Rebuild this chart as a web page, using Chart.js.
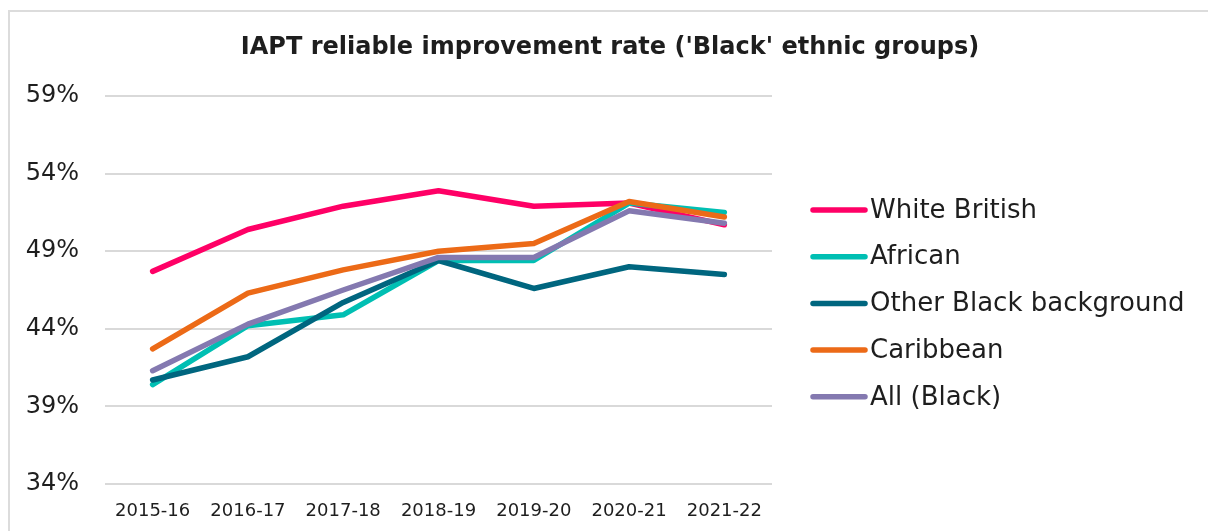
<!DOCTYPE html>
<html>
<head>
<meta charset="utf-8">
<title>IAPT reliable improvement rate</title>
<script src="https://cdn.jsdelivr.net/npm/chart.js@4.4.1/dist/chart.umd.min.js"></script>
<style>
  body { margin: 0; background: #fff; }
  #wrap { position: relative; width: 1208px; height: 531px; overflow: hidden; }
  #frame { position: absolute; left: 8px; top: 10px; width: 1300px; height: 600px; border: 2px solid #dcdcdc; }
  canvas { position: absolute; left: 0; top: 0; }
</style>
</head>
<body>
<div id="wrap">
  <div id="frame"></div>
  <canvas id="chart" width="1208" height="531"></canvas>
</div>
<script>
// reliable improvement rate, % of referrals finishing treatment
const years = ['2015-16', '2016-17', '2017-18', '2018-19', '2019-20', '2020-21', '2021-22']
const whiteBritish = [47.7, 50.4, 51.9, 52.9, 51.9, 52.1, 50.7]
const african = [40.4, 44.2, 44.9, 48.4, 48.4, 52.1, 51.5]
const otherBlack = [40.7, 42.2, 45.7, 48.4, 46.6, 48.0, 47.5]
const caribbean = [42.7, 46.3, 47.8, 49.0, 49.5, 52.2, 51.2]
const allBlack = [41.3, 44.3, 46.5, 48.6, 48.6, 51.6, 50.8]
const yTicks = [34, 39, 44, 49, 54, 59]

const seriesNames = ['White British', 'African', 'Other Black background', 'Caribbean', 'All (Black)']
const seriesValues = [whiteBritish, african, otherBlack, caribbean, allBlack]
const seriesColors = ['#ff0066', '#00bfb3', '#00667f', '#ec6a17', '#8479b0']

const FONT = "'DejaVu Sans', sans-serif"
const TEXT = '#1e1e1e'

Chart.defaults.font.family = FONT
Chart.defaults.color = TEXT

const datasets = seriesNames.map((name, i) => ({
    label: name,
    data: seriesValues[i],
    borderColor: seriesColors[i],
    backgroundColor: seriesColors[i],
    borderWidth: 5.5,
    borderCapStyle: 'round',
    borderJoinStyle: 'round',
    pointRadius: 0,
    tension: 0,
    // later series sit on top, like the spreadsheet original
    order: seriesNames.length - i,
}))

// title and legend are painted by hand so they can sit where they need to
const decorations = {
    id: 'decorations',
    afterDraw(chart){
        const ctx = chart.ctx
        const area = chart.chartArea
        ctx.save()
        ctx.fillStyle = TEXT
        ctx.textBaseline = 'middle'
        ctx.textAlign = 'center'
        ctx.font = `bold 24px ${FONT}`
        ctx.fillText("IAPT reliable improvement rate ('Black' ethnic groups)", 610, 48)

        ctx.textAlign = 'left'
        ctx.font = `26px ${FONT}`
        const x0 = area.right + 39
        chart.data.datasets.forEach((ds, i) => {
            const y = 210 + i * 46.7
            ctx.strokeStyle = ds.borderColor
            ctx.lineWidth = 5.5
            ctx.lineCap = 'round'
            ctx.beginPath()
            ctx.moveTo(x0 + 2, y)
            ctx.lineTo(x0 + 54, y)
            ctx.stroke()
            ctx.fillText(ds.label, x0 + 59, y + 1)
        })
        ctx.restore()
    }
}

new Chart(document.getElementById('chart'), {
    type: 'line',
    data: {labels: years, datasets: datasets},
    plugins: [decorations],
    options: {
        responsive: false,
        devicePixelRatio: 1,
        animation: false,
        layout: {
            padding: {top: 96, left: 0, right: 436, bottom: 0}
        },
        plugins: {
            legend: {display: false},
            title: {display: false},
            tooltip: {enabled: false},
        },
        scales: {
            x: {
                offset: true,
                grid: {display: false, drawTicks: false},
                border: {display: false},
                ticks: {font: {size: 18}, padding: 17, maxRotation: 0},
                afterFit(scale){ scale.height = 47 },
            },
            y: {
                min: yTicks[0],
                max: yTicks[yTicks.length - 1],
                afterBuildTicks(scale){ scale.ticks = yTicks.map(v => ({value: v})) },
                grid: {color: '#d9d9d9', lineWidth: 2, drawTicks: false},
                border: {display: false},
                ticks: {
                    font: {size: 24},
                    padding: 26,
                    callback: v => v + '%',
                },
                afterFit(scale){ scale.width = 105 },
            }
        }
    }
})
</script>
</body>
</html>
